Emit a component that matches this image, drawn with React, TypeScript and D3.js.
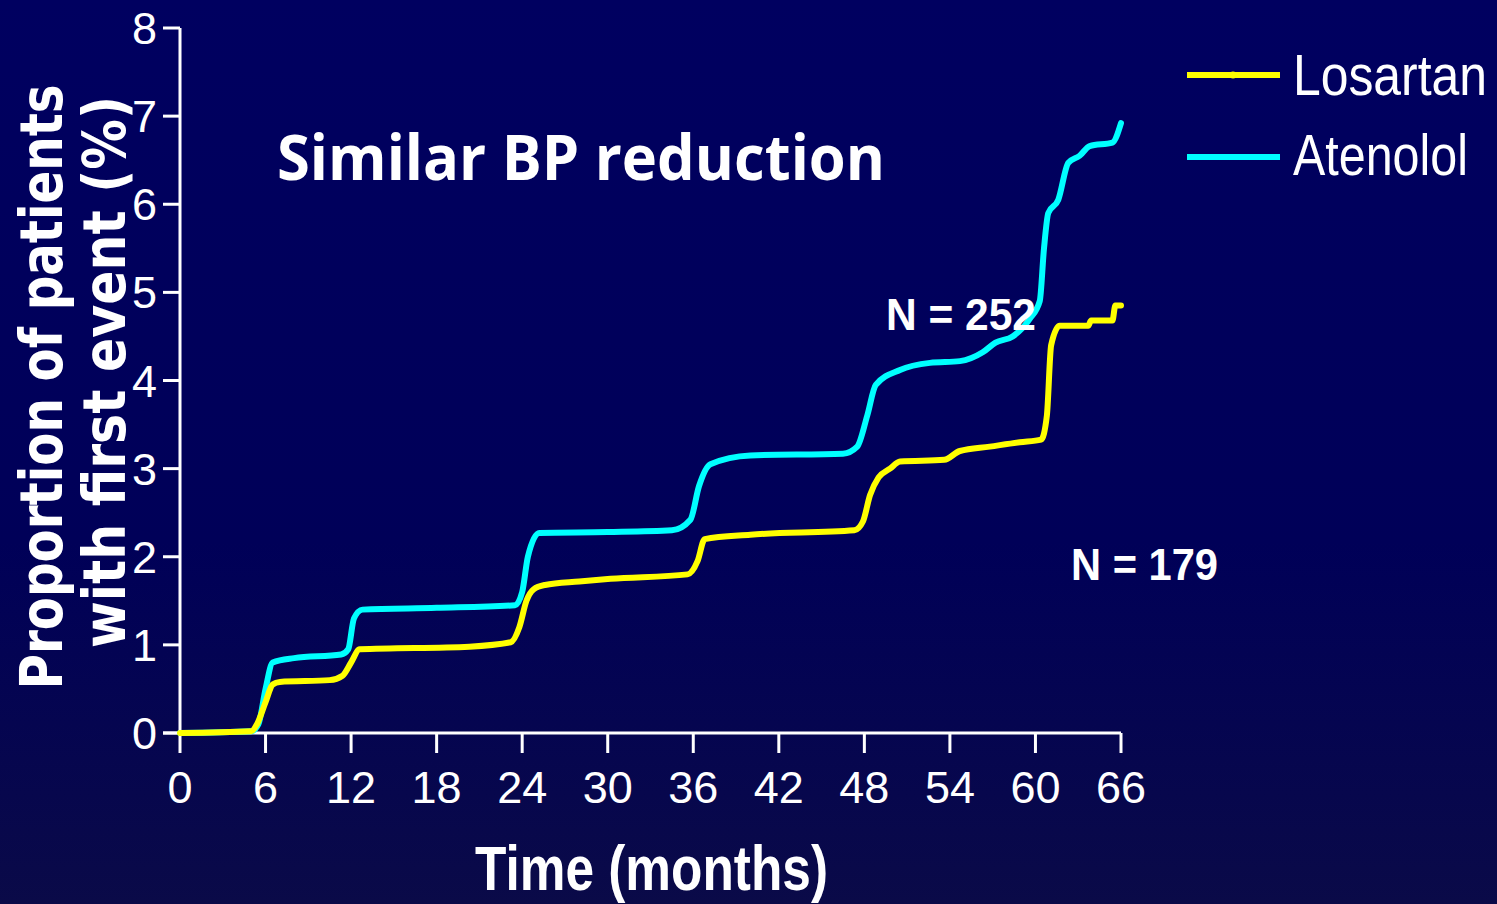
import React from "react";
import * as d3 from "d3";

const W = 1497;
const H = 904;

const xTicks = [0, 6, 12, 18, 24, 30, 36, 42, 48, 54, 60, 66];
const yTicks = [0, 1, 2, 3, 4, 5, 6, 7, 8];

const atenololMonths = [0, 5, 5.5, 6.0, 6.5, 8, 11.3, 11.8, 12.2, 12.8, 18, 23.5, 24.0, 24.4, 25.2, 30, 34.5, 35.8, 36.4, 37.2, 40, 46.5, 47.5, 48.2, 48.8, 50.5, 52.6, 54.7, 56.3, 57.2, 58.4, 59.6, 60.3, 60.6, 60.9, 61.6, 62.3, 63.1, 63.8, 65.4, 66];
const atenololValues = [0, 0.02, 0.1, 0.5, 0.8, 0.85, 0.89, 0.95, 1.3, 1.4, 1.42, 1.45, 1.6, 2.0, 2.27, 2.28, 2.3, 2.42, 2.8, 3.05, 3.15, 3.17, 3.25, 3.6, 3.95, 4.12, 4.2, 4.22, 4.32, 4.43, 4.5, 4.7, 4.9, 5.5, 5.9, 6.05, 6.47, 6.55, 6.66, 6.7, 6.92];

const losartanMonths = [0, 5, 5.4, 6.0, 6.5, 7, 10.5, 11.4, 12.0, 12.6, 20.3, 23.2, 23.8, 24.3, 24.8, 25.6, 28, 30.2, 35.6, 36.3, 36.8, 40, 47.3, 47.9, 48.4, 49.0, 49.8, 50.5, 53.6, 54.7, 56.8, 58.9, 60.4, 60.8, 61.1, 61.7, 63.7, 63.9, 65.4, 65.6, 66];
const losartanValues = [0, 0.02, 0.1, 0.35, 0.55, 0.58, 0.6, 0.65, 0.8, 0.95, 0.98, 1.03, 1.2, 1.5, 1.63, 1.68, 1.72, 1.75, 1.8, 1.95, 2.2, 2.25, 2.3, 2.4, 2.7, 2.9, 3.0, 3.08, 3.1, 3.2, 3.25, 3.3, 3.33, 3.6, 4.4, 4.62, 4.62, 4.68, 4.68, 4.85, 4.85];

const seriesNames = ["Losartan", "Atenolol"];
const seriesColors = ["#ffff00", "#00ffff"];

export default function App() {
  const x = d3.scaleLinear().domain([0, 66]).range([180, 1121]);
  const y = d3.scaleLinear().domain([0, 8]).range([733, 28]);
  const line = d3
    .line<[number, number]>()
    .x((d) => x(d[0]))
    .y((d) => y(d[1]))
    .curve(d3.curveMonotoneX);

  const atenolol: [number, number][] = atenololMonths.map((m, i) => [m, atenololValues[i]]);
  const losartan: [number, number][] = losartanMonths.map((m, i) => [m, losartanValues[i]]);

  const tickFont = "'Liberation Sans', Arial, sans-serif";

  return (
    <div style={{ position: "fixed", left: 0, top: 0, width: W, height: H }}>
      <svg width={W} height={H} style={{ display: "block" }}>
        <defs>
          <linearGradient id="bg" x1="0" y1="0" x2="0" y2="1">
            <stop offset="0" stopColor="#000060" />
            <stop offset="0.6" stopColor="#000058" />
            <stop offset="1" stopColor="#0a0a48" />
          </linearGradient>
        </defs>
        <rect x={0} y={0} width={W} height={H} fill="url(#bg)" />

        {/* axes */}
        <line x1={x(0)} x2={x(0)} y1={y(8)} y2={y(0)} stroke="#fff" strokeWidth={3} />
        <line x1={x(0) - 17} x2={x(66)} y1={y(0)} y2={y(0)} stroke="#fff" strokeWidth={3} />
        {yTicks.map((t) => (
          <g key={"y" + t}>
            <line x1={x(0) - 17} x2={x(0)} y1={y(t)} y2={y(t)} stroke="#fff" strokeWidth={3} />
            <text
              x={157}
              y={y(t) + 16}
              textAnchor="end"
              fill="#fff"
              fontFamily={tickFont}
              fontSize={45}
            >
              {t}
            </text>
          </g>
        ))}
        {xTicks.map((t) => (
          <g key={"x" + t}>
            <line x1={x(t)} x2={x(t)} y1={y(0)} y2={y(0) + 20} stroke="#fff" strokeWidth={3} />
            <text
              x={x(t)}
              y={803}
              textAnchor="middle"
              fill="#fff"
              fontFamily={tickFont}
              fontSize={45}
            >
              {t}
            </text>
          </g>
        ))}

        {/* curves */}
        <path d={line(atenolol) || ""} fill="none" stroke={seriesColors[1]} strokeWidth={6} strokeLinecap="round" strokeLinejoin="round" />
        <path d={line(losartan) || ""} fill="none" stroke={seriesColors[0]} strokeWidth={6} strokeLinecap="round" strokeLinejoin="round" />

        {/* annotations */}
        <text x={277} y={180} fill="#fff" fontFamily="'Open Sans', 'Noto Sans', sans-serif" fontWeight={700} fontSize={62} textLength={608} lengthAdjust="spacingAndGlyphs">
          Similar BP reduction
        </text>
        <text x={886} y={330} fill="#fff" fontFamily={tickFont} fontWeight={700} fontSize={44} textLength={150} lengthAdjust="spacingAndGlyphs">
          N = 252
        </text>
        <text x={1071} y={580} fill="#fff" fontFamily={tickFont} fontWeight={700} fontSize={44} textLength={147} lengthAdjust="spacingAndGlyphs">
          N = 179
        </text>

        {/* axis titles */}
        <text x={475} y={890} fill="#fff" fontFamily={tickFont} fontWeight={700} fontSize={63} textLength={353} lengthAdjust="spacingAndGlyphs">
          Time (months)
        </text>
        <g transform="translate(62,387) rotate(-90)">
          <text x={0} y={0} textAnchor="middle" fill="#fff" fontFamily="'DejaVu Sans', Verdana, sans-serif" fontWeight={700} fontSize={58} textLength={605} lengthAdjust="spacingAndGlyphs">
            Proportion of patients
          </text>
        </g>
        <g transform="translate(125,372) rotate(-90)">
          <text x={0} y={0} textAnchor="middle" fill="#fff" fontFamily="'DejaVu Sans', Verdana, sans-serif" fontWeight={700} fontSize={58} textLength={552} lengthAdjust="spacingAndGlyphs">
            with first event (%)
          </text>
        </g>

        {/* legend */}
        {seriesNames.map((name, i) => {
          const ly = i === 0 ? 75 : 157;
          const by = i === 0 ? 95 : 175;
          return (
            <g key={name}>
              <line x1={1187} x2={1280} y1={ly} y2={ly} stroke={seriesColors[i]} strokeWidth={6} />
              {i === 0 && <circle cx={1233} cy={ly} r={3.5} fill={seriesColors[i]} />}
              <text x={1293} y={by} fill="#fff" fontFamily={tickFont} fontSize={57} textLength={i === 0 ? 194 : 175} lengthAdjust="spacingAndGlyphs">
                {name}
              </text>
            </g>
          );
        })}
      </svg>
    </div>
  );
}
